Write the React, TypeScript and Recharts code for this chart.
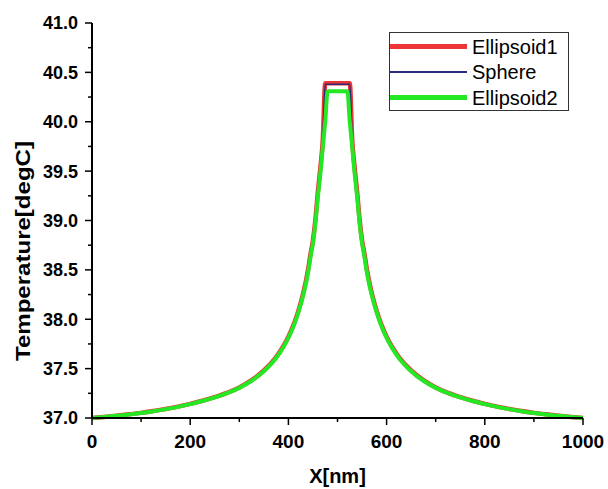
import React from 'react';
import { LineChart, Line, XAxis, YAxis, Legend, Label } from 'recharts';

// x positions in nm
const xNm = [
  0, 25, 50, 75, 100, 125, 150, 175, 200, 225, 250, 275, 300, 325, 350, 375, 390, 400, 410, 420, 430, 440, 445, 450, 455, 460, 465, 470, 475, 480,
  520, 525, 530, 535, 540, 545, 550, 555, 560, 570, 580, 590, 600, 610, 625, 650, 675, 700, 725, 750, 775, 800, 825, 850, 875, 900, 925, 950, 975, 1000
];
const ellipsoid1 = [
  37.0, 37.011, 37.023, 37.037, 37.052, 37.07, 37.092, 37.115, 37.143, 37.175, 37.212, 37.255, 37.31, 37.383, 37.481, 37.618, 37.73, 37.824, 37.938, 38.08, 38.26, 38.5, 38.66, 38.8, 39.01, 39.29, 39.53, 39.815, 40.39, 40.39,
  40.39, 40.39, 39.815, 39.53, 39.29, 39.01, 38.8, 38.66, 38.5, 38.26, 38.08, 37.938, 37.824, 37.73, 37.618, 37.481, 37.383, 37.31, 37.255, 37.212, 37.175, 37.143, 37.115, 37.092, 37.07, 37.052, 37.037, 37.023, 37.011, 37.0
];
const sphere = [
  37.0, 37.011, 37.023, 37.037, 37.052, 37.07, 37.092, 37.115, 37.143, 37.175, 37.212, 37.255, 37.31, 37.383, 37.481, 37.618, 37.73, 37.824, 37.937, 38.078, 38.258, 38.497, 38.656, 38.796, 39.005, 39.28, 39.52, 39.8, 40.38, 40.38,
  40.38, 40.38, 39.8, 39.52, 39.28, 39.005, 38.796, 38.656, 38.497, 38.258, 38.078, 37.937, 37.824, 37.73, 37.618, 37.481, 37.383, 37.31, 37.255, 37.212, 37.175, 37.143, 37.115, 37.092, 37.07, 37.052, 37.037, 37.023, 37.011, 37.0
];
const ellipsoid2 = [
  37.0, 37.011, 37.022, 37.036, 37.051, 37.069, 37.09, 37.113, 37.141, 37.172, 37.209, 37.251, 37.305, 37.377, 37.474, 37.608, 37.72, 37.812, 37.925, 38.065, 38.24, 38.47, 38.63, 38.77, 38.97, 39.24, 39.47, 39.74, 40.0, 40.31,
  40.31, 40.0, 39.74, 39.47, 39.24, 38.97, 38.77, 38.63, 38.47, 38.24, 38.065, 37.925, 37.812, 37.72, 37.608, 37.474, 37.377, 37.305, 37.251, 37.209, 37.172, 37.141, 37.113, 37.09, 37.069, 37.051, 37.036, 37.022, 37.011, 37.0
];
const xTicks = [0, 100, 200, 300, 400, 500, 600, 700, 800, 900, 1000];
const yTicks = [37, 37.25, 37.5, 37.75, 38, 38.25, 38.5, 38.75, 39, 39.25, 39.5, 39.75, 40, 40.25, 40.5, 40.75, 41];
const seriesNames = ['Ellipsoid1', 'Sphere', 'Ellipsoid2'];

const data = xNm.map((x, i) => ({
  x,
  e1: ellipsoid1[i],
  sp: sphere[i],
  e2: ellipsoid2[i]
}));

const FONT = '"Liberation Sans", Arial, sans-serif';
const colors = ['#ee3535', '#2b2b7b', '#25e825'];
const widths = [4.5, 1.6, 4];

const XTick = (props: any) => {
  const { x, y, payload } = props;
  const major = payload.value % 200 === 0;
  return <g>
      <line x1={x} x2={x} y1={y} y2={y + (major ? 7 : 4)} stroke="#000" strokeWidth={1.5} />
      {major && <text x={x} y={y + 30} textAnchor="middle" fontFamily={FONT} fontWeight="bold" fontSize={19} fill="#000">
          {payload.value}
        </text>}
    </g>;
};

const YTick = (props: any) => {
  const { x, y, payload } = props;
  const v = payload.value;
  const major = Math.abs(v * 2 - Math.round(v * 2)) < 1e-6;
  return <g>
      <line x1={x} x2={x - (major ? 7 : 4)} y1={y} y2={y} stroke="#000" strokeWidth={1.5} />
      {major && <text x={x - 14} y={y} dy="0.36em" textAnchor="end" fontFamily={FONT} fontWeight="bold" fontSize={18} fill="#000">
          {v.toFixed(1)}
        </text>}
    </g>;
};

const LegendBox = () => {
  return <svg width={181} height={80} style={{ display: 'block' }}>
      <rect x={0.5} y={0.5} width={179} height={78} fill="#fff" stroke="#333" strokeWidth={1} />
      {seriesNames.map((name, i) => {
      const cy = 14.5 + i * 25.5;
      return <g key={name}>
            <line x1={1} x2={78} y1={cy} y2={cy} stroke={colors[i]} strokeWidth={i === 1 ? 2 : 5} />
            <text x={83} y={cy + 7} fontFamily={FONT} fontSize={20} fill="#000">{name}</text>
          </g>;
    })}
    </svg>;
};

export default function App() {
  return <div style={{ position: 'absolute', left: 0, top: 0, width: 608, height: 489, background: '#fff' }}>
      <LineChart width={608} height={489} data={data} margin={{ top: 23, right: 25, left: 32, bottom: 0 }}>
        <XAxis dataKey="x" type="number" domain={[0, 1000]} ticks={xTicks} interval={0} height={71}
          axisLine={{ stroke: '#000', strokeWidth: 2 }} tickLine={false} tickSize={0} tickMargin={0} tick={<XTick />}>
          <Label value="X[nm]" position="insideBottom" offset={6} fontFamily={FONT} fontWeight="bold" fontSize={20} fill="#000" />
        </XAxis>
        <XAxis xAxisId="top" dataKey="x" type="number" domain={[0, 1000]} orientation="top" height={0}
          axisLine={{ stroke: '#000', strokeWidth: 2 }} tick={false} tickLine={false} />
        <YAxis type="number" domain={[37, 41]} ticks={yTicks} interval={0} width={60}
          axisLine={{ stroke: '#000', strokeWidth: 2 }} tickLine={false} tickSize={0} tickMargin={0} tick={<YTick />}>
          <Label content={() => <text x={30} y={251} transform="rotate(-90, 30, 251)" textAnchor="middle"
              fontFamily={FONT} fontWeight="bold" fontSize={20} fill="#000" textLength={220} lengthAdjust="spacingAndGlyphs">
                Temperature[degC]
              </text>} />
        </YAxis>
        <YAxis yAxisId="right" type="number" domain={[37, 41]} orientation="right" width={0}
          axisLine={{ stroke: '#000', strokeWidth: 2 }} tick={false} tickLine={false} />
        <Legend layout="horizontal" verticalAlign="middle" align="center" content={<LegendBox />}
          wrapperStyle={{ position: 'absolute', left: 389, top: 32, width: 181, height: 80 }} />
        <Line type="monotone" dataKey="e1" name={seriesNames[0]} stroke={colors[0]} strokeWidth={widths[0]} dot={false} isAnimationActive={false} />
        <Line type="monotone" dataKey="sp" name={seriesNames[1]} stroke={colors[1]} strokeWidth={widths[1]} dot={false} isAnimationActive={false} />
        <Line type="monotone" dataKey="e2" name={seriesNames[2]} stroke={colors[2]} strokeWidth={widths[2]} dot={false} isAnimationActive={false} />
      </LineChart>
    </div>;
}
